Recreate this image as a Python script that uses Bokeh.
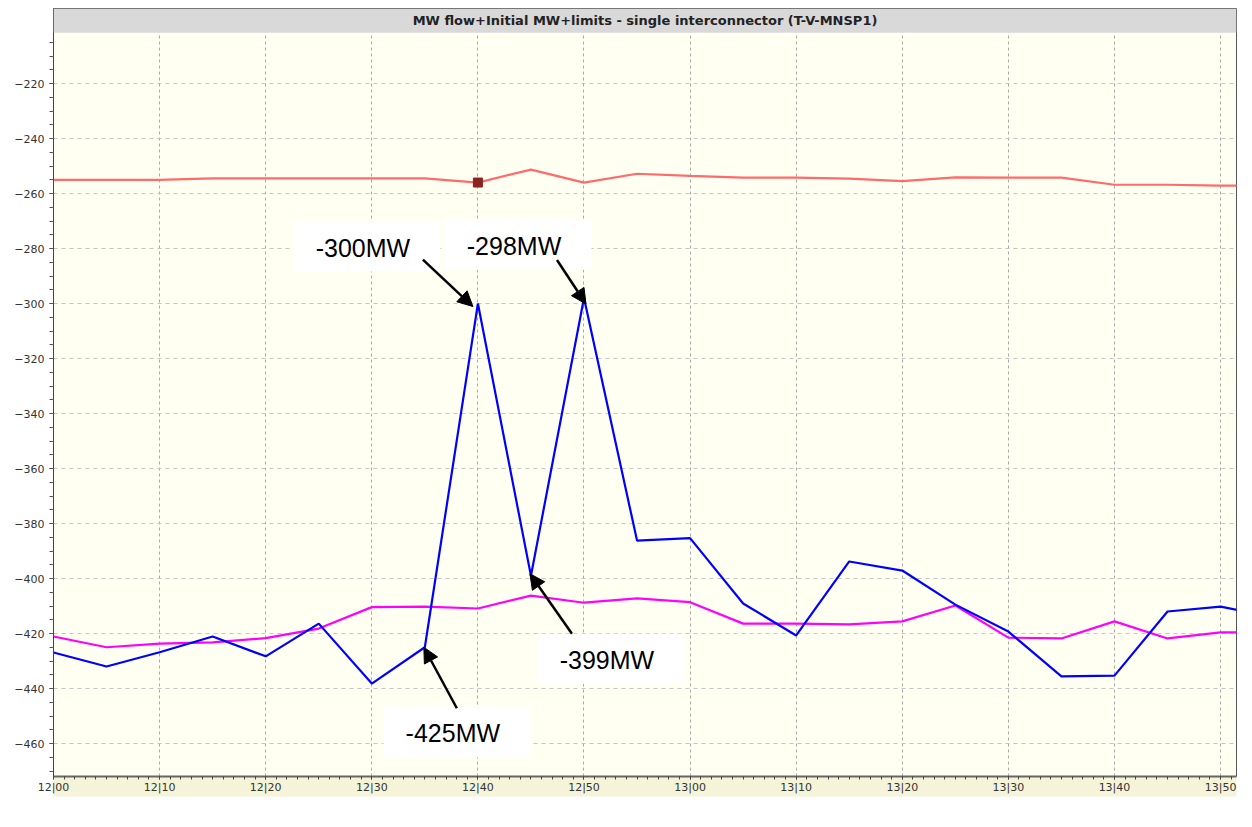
from bokeh.plotting import figure
from bokeh.models import (Range1d, FixedTicker, CustomJSTickFormatter, BoxAnnotation,
                          Label, Legend, LegendItem, Arrow, NormalHead, ColumnDataSource)
from bokeh.embed import file_html
from bokeh.resources import INLINE
from bokeh.core.properties import value

# ---- data (minutes after 12:00, 5-minute dispatch intervals) ----
minutes = [0, 5, 10, 15, 20, 25, 30, 35, 40, 45, 50, 55,
           60, 65, 70, 75, 80, 85, 90, 95, 100, 105, 110, 115]
export_limit = [-255.0, -255.0, -255.0, -254.5, -254.5, -254.5, -254.5, -254.5,
                -256.0, -251.3, -256.0, -252.8, -253.6, -254.2, -254.2, -254.6,
                -255.5, -254.1, -254.2, -254.2, -256.8, -256.8, -257.1, -257.1]
total_cleared = [-421.1, -425.0, -423.7, -423.2, -421.7, -418.2, -410.4, -410.2,
                 -410.9, -406.2, -408.8, -407.2, -408.6, -416.4, -416.4, -416.7,
                 -415.6, -409.8, -421.5, -421.8, -415.6, -421.8, -419.6, -419.6]
initial_mw = [-426.9, -432.0, -426.8, -421.1, -428.3, -416.4, -438.2, -425.0,
              -300.0, -399.0, -298.0, -386.2, -385.3, -409.1, -420.7, -393.8,
              -397.1, -409.5, -419.3, -435.6, -435.3, -412.0, -410.2, -414.0]
marker_index = 8  # highlighted Export Limit point (12:40)

x_major_ticks = [0, 10, 20, 30, 40, 50, 60, 70, 80, 90, 100, 110]
y_major_ticks = [-460, -440, -420, -400, -380, -360, -340, -320, -300, -280, -260, -240, -220]

title_text = "MW flow+Initial MW+limits - single interconnector (T-V-MNSP1)"
date_text = "Thu, 26 Feb 09"
y_unit_text = "MW"
series_names = ["Export Limit", "Total Cleared (MW Flow)", "Initial MW"]

# annotations: (text, point index, box offset px, arrow tail offset px, arrow head offset px)
annotations = [
    ("-300MW", 8, (-111, -57), (-55, -44), (-5, 3)),
    ("-298MW", 10, (-66, -53), (-27, -38), (2, 6)),
    ("-399MW", 9, (80, 83), (41, 58), (-1, -2)),
    ("-425MW", 7, (32, 85), (32, 61), (-1, 0)),
]

# ---- layout ----
X0, X1 = 0, 111.5
Y0, Y1 = -472.0, -192.7
FW, FH = 1183, 768
BAND_BOTTOM = -201.5
sx = FW / (X1 - X0)
sy = FH / (Y1 - Y0)

p = figure(frame_width=FW, frame_height=FH,
           x_range=Range1d(X0, X1), y_range=Range1d(Y0, Y1),
           output_backend="svg", toolbar_location=None,
           min_border_left=53, min_border_right=8, min_border_top=8, min_border_bottom=30,
           background_fill_color="#fffff2", border_fill_color="white",
           outline_line_color="#555555", outline_line_width=1)

# axes (date shown as a separate label to keep the bottom compact)
p.xaxis.ticker = FixedTicker(ticks=x_major_ticks, minor_ticks=list(range(0, 112)))
p.xaxis.formatter = CustomJSTickFormatter(code="""
    const h = 12 + Math.floor(tick / 60);
    const m = tick % 60;
    return h + '|' + (m < 10 ? '0' : '') + m;
""")
p.xaxis.major_label_text_font = "DejaVu Sans"
p.xaxis.major_label_text_font_size = "11px"
p.xaxis.major_label_text_color = "#333333"
p.xaxis.major_label_standoff = 1
p.xaxis.major_tick_out = 3
p.xaxis.major_tick_in = 0
p.xaxis.minor_tick_out = 3
p.xaxis.minor_tick_in = 0
p.xaxis.axis_line_color = "#666666"
p.xaxis.axis_line_width = 2
p.xaxis.major_tick_line_color = "#444444"
p.xaxis.minor_tick_line_color = "#444444"
p.xaxis.background_fill_color = "#f5f3d8"

p.yaxis.ticker = FixedTicker(ticks=y_major_ticks, minor_ticks=list(range(-470, -204, 5)))
p.yaxis.major_label_text_font = "DejaVu Sans"
p.yaxis.major_label_text_font_size = "11px"
p.yaxis.major_label_text_color = "#333333"
p.yaxis.major_label_standoff = 5
p.yaxis.major_tick_out = 4
p.yaxis.major_tick_in = 0
p.yaxis.minor_tick_out = 4
p.yaxis.minor_tick_in = 0
p.yaxis.axis_line_color = "#444444"
p.yaxis.major_tick_line_color = "#555555"
p.yaxis.minor_tick_line_color = "#555555"

# grids
p.xgrid.grid_line_color = "#a8a8a8"
p.xgrid.grid_line_dash = "3 3"
p.ygrid.grid_line_color = "#c4c4c4"
p.ygrid.grid_line_dash = "4 4"

# title band
p.add_layout(BoxAnnotation(bottom=BAND_BOTTOM, fill_color="#d9d9d9", fill_alpha=1.0,
                           line_color=None))
p.add_layout(Label(x=(X0 + X1) / 2, y=(BAND_BOTTOM + Y1) / 2, text=title_text,
                   text_font="DejaVu Sans", text_font_style="bold", text_font_size="13px",
                   text_color="#222222", text_align="center", text_baseline="middle"))
p.add_layout(Label(x=X0, y=-198.9, x_offset=-25, text=y_unit_text,
                   text_font="DejaVu Sans", text_font_style="bold", text_font_size="11px",
                   text_color="#333333", text_align="center", text_baseline="middle"))
p.add_layout(Label(x=(X0 + X1) / 2, y=Y0, y_offset=-23, text=date_text,
                   text_font="DejaVu Sans", text_font_size="11px",
                   text_color="#333333", text_align="center", text_baseline="middle"))

# series
src = ColumnDataSource(dict(m=minutes, el=export_limit, tc=total_cleared, im=initial_mw))
r_el = p.line("m", "el", source=src, line_color="#ff6a6a", line_width=2.2)
r_tc = p.line("m", "tc", source=src, line_color="#ff00ff", line_width=2.2)
r_im = p.line("m", "im", source=src, line_color="#0000ff", line_width=2.2)
p.scatter([minutes[marker_index]], [export_limit[marker_index]], marker="square",
          size=9, color="#8b2323")

# annotations
bx, by, lbl, ax0, ay0, ax1, ay1 = [], [], [], [], [], [], []
for text, idx, box, tail, head in annotations:
    px, py = minutes[idx], initial_mw[idx]
    bx.append(px + box[0] / sx)
    by.append(py - box[1] / sy)
    lbl.append(text)
    ax0.append(px + tail[0] / sx)
    ay0.append(py - tail[1] / sy)
    ax1.append(px + head[0] / sx)
    ay1.append(py - head[1] / sy)

p.rect(bx, by, width=147, height=50, width_units="screen", height_units="screen",
       fill_color="white", line_color=None)
p.text(bx, by, text=lbl, x_offset=-4, y_offset=1, text_font=value("Liberation Sans"),
       text_font_size="25px", text_color="#000000", text_align="center",
       text_baseline="middle")
asrc = ColumnDataSource(dict(x0=ax0, y0=ay0, x1=ax1, y1=ay1))
p.add_layout(Arrow(end=NormalHead(size=15, fill_color="black", line_color="black"),
                   x_start="x0", y_start="y0", x_end="x1", y_end="y1", source=asrc,
                   line_color="black", line_width=2.5))

# legend below the axis
legend = Legend(items=[LegendItem(label=n, renderers=[r])
                       for n, r in zip(series_names, [r_el, r_tc, r_im])],
                location=(2, 0), orientation="horizontal",
                label_text_font="DejaVu Sans Mono", label_text_font_size="13px",
                label_text_color="#333333",
                glyph_width=26, glyph_height=12, label_height=12, label_standoff=14,
                spacing=18, padding=0, margin=0, border_line_color=None,
                background_fill_alpha=0)
p.add_layout(legend, "below")

open("out.html", "w").write(file_html(p, INLINE))
